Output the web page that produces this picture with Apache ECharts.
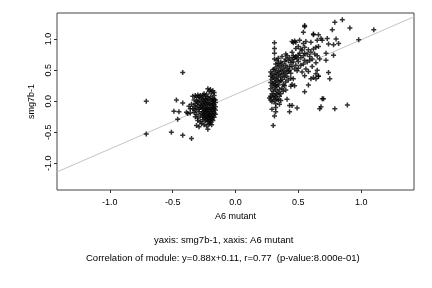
<!DOCTYPE html>
<html>
<head>
<meta charset="utf-8">
<script src="https://cdn.jsdelivr.net/npm/echarts@6/dist/echarts.min.js"></script>
<style>
  html, body { margin: 0; padding: 0; background: #fff; }
  #chart { width: 432px; height: 288px; }
</style>
</head>
<body>
<div id="chart"></div>
<script>
// tick values on both axes
var tickValues = [-1, -0.5, 0, 0.5, 1];
var xRange = [-1.42, 1.42];
var yRange = [-1.43, 1.42];

// fitted line from the caption
var fitSlope = 0.88;
var fitIntercept = 0.11;

// left group (A6 mutant < 0)
var leftPoints = [
  [-0.71, 0.00], [-0.71, -0.53], [-0.42, 0.46], [-0.47, 0.02], [-0.49, -0.16], [-0.45, -0.17],
  [-0.46, -0.29], [-0.51, -0.50], [-0.42, -0.55], [-0.35, -0.60], [-0.42, -0.03], [-0.39, -0.18],
  [-0.37, -0.08], [-0.36, -0.12], [-0.38, -0.20],
  [-0.34, 0.08], [-0.32, 0.09], [-0.31, 0.06], [-0.30, 0.10], [-0.29, 0.07], [-0.28, 0.09],
  [-0.27, 0.05], [-0.26, 0.10], [-0.25, 0.12], [-0.24, 0.08], [-0.23, 0.11], [-0.22, 0.20],
  [-0.21, 0.16], [-0.20, 0.19], [-0.19, 0.13], [-0.18, 0.17], [-0.17, 0.14], [-0.17, 0.09],
  [-0.18, 0.04], [-0.16, 0.02],
  [-0.33, 0.02], [-0.31, 0.00], [-0.30, -0.02], [-0.29, 0.02], [-0.27, 0.00], [-0.26, 0.03],
  [-0.25, -0.01], [-0.24, 0.04], [-0.23, 0.01], [-0.22, 0.06], [-0.21, 0.03], [-0.20, 0.07],
  [-0.19, 0.02], [-0.18, 0.00], [-0.17, 0.03], [-0.16, -0.02],
  [-0.35, -0.05], [-0.33, -0.08], [-0.32, -0.04], [-0.30, -0.07], [-0.28, -0.05], [-0.27, -0.09],
  [-0.26, -0.04], [-0.25, -0.07], [-0.24, -0.03], [-0.23, -0.06], [-0.22, -0.02], [-0.21, -0.05],
  [-0.20, -0.03], [-0.19, -0.07], [-0.18, -0.04], [-0.17, -0.06], [-0.16, -0.09],
  [-0.34, -0.12], [-0.32, -0.14], [-0.31, -0.11], [-0.29, -0.13], [-0.28, -0.10], [-0.26, -0.12],
  [-0.25, -0.15], [-0.24, -0.11], [-0.23, -0.13], [-0.22, -0.10], [-0.21, -0.14], [-0.20, -0.11],
  [-0.19, -0.13], [-0.18, -0.10], [-0.17, -0.12], [-0.16, -0.14],
  [-0.36, -0.19], [-0.33, -0.18], [-0.31, -0.21], [-0.29, -0.17], [-0.27, -0.20], [-0.26, -0.17],
  [-0.25, -0.21], [-0.24, -0.18], [-0.23, -0.16], [-0.22, -0.19], [-0.21, -0.21], [-0.20, -0.17],
  [-0.19, -0.20], [-0.18, -0.16], [-0.17, -0.19], [-0.16, -0.21],
  [-0.32, -0.25], [-0.30, -0.27], [-0.28, -0.24], [-0.26, -0.26], [-0.25, -0.23], [-0.24, -0.27],
  [-0.23, -0.24], [-0.22, -0.26], [-0.21, -0.23], [-0.20, -0.27], [-0.19, -0.25], [-0.18, -0.23],
  [-0.17, -0.26],
  [-0.30, -0.31], [-0.28, -0.33], [-0.26, -0.30], [-0.24, -0.32], [-0.23, -0.29], [-0.22, -0.33],
  [-0.21, -0.30], [-0.20, -0.32], [-0.19, -0.29], [-0.18, -0.31],
  [-0.31, -0.39], [-0.29, -0.41], [-0.27, -0.36], [-0.25, -0.38], [-0.23, -0.40], [-0.22, -0.45],
  [-0.21, -0.37], [-0.20, -0.35], [-0.19, -0.38]
];

// right group (A6 mutant > 0)
var rightPoints = [
  [1.10, 1.15], [0.98, 0.99], [0.91, 1.18], [0.85, 1.31], [0.79, 1.27], [0.77, 1.15],
  [0.73, 1.01], [0.80, 1.00], [0.82, 0.93], [0.78, 0.91], [0.74, 0.92], [0.78, 0.74],
  [0.72, 0.77], [0.72, 0.66], [0.74, 0.46], [0.75, 0.36], [0.69, 0.04], [0.70, 0.04],
  [0.67, -0.12], [0.68, -0.09], [0.79, -0.12], [0.89, -0.06], [0.66, 1.07], [0.68, 1.01],
  [0.69, 0.98], [0.55, 1.20], [0.55, 1.22], [0.54, 1.11], [0.62, 1.08], [0.58, 0.26],
  [0.55, 0.15], [0.64, 0.36], [0.66, 0.40], [0.49, -0.11], [0.43, -0.17], [0.45, -0.07],
  [0.43, -0.07], [0.41, 0.03], [0.30, -0.39], [0.31, -0.24], [0.32, -0.17], [0.29, -0.13],
  [0.32, -0.10],
  [0.27, 0.05], [0.28, 0.08], [0.28, 0.02], [0.29, -0.01], [0.28, 0.40], [0.28, 0.47],
  [0.29, 0.44], [0.29, 0.35], [0.28, 0.30], [0.29, 0.25], [0.28, 0.20], [0.29, 0.12],
  [0.30, 0.06], [0.30, 0.51], [0.30, 0.38], [0.30, 0.28], [0.30, 0.16],
  [0.31, 0.94], [0.31, 0.85], [0.31, 0.77], [0.31, 0.68], [0.32, 0.60], [0.31, 0.52],
  [0.32, 0.47], [0.31, 0.42], [0.32, 0.36], [0.31, 0.31], [0.32, 0.27], [0.31, 0.22],
  [0.32, 0.18], [0.31, 0.10], [0.32, 0.07], [0.31, 0.01], [0.32, -0.04], [0.33, 0.66],
  [0.33, 0.55], [0.33, 0.43], [0.33, 0.33], [0.33, 0.24], [0.33, 0.12], [0.33, 0.03],
  [0.34, 0.69], [0.34, 0.61], [0.35, 0.57], [0.34, 0.49], [0.35, 0.45], [0.34, 0.38],
  [0.35, 0.31], [0.34, 0.26], [0.35, 0.19], [0.34, 0.14], [0.35, 0.08], [0.34, 0.02],
  [0.35, -0.05], [0.36, 0.63], [0.36, 0.52], [0.36, 0.40], [0.36, 0.33], [0.36, 0.12],
  [0.36, 0.01],
  [0.37, 0.72], [0.37, 0.60], [0.38, 0.55], [0.37, 0.48], [0.38, 0.43], [0.37, 0.35],
  [0.38, 0.27], [0.37, 0.21], [0.38, 0.16], [0.39, 0.64], [0.39, 0.50], [0.39, 0.38],
  [0.40, 0.76], [0.40, 0.68], [0.40, 0.58], [0.40, 0.45], [0.40, 0.31], [0.39, 0.25],
  [0.40, 0.18],
  [0.41, 0.73], [0.42, 0.65], [0.41, 0.53], [0.42, 0.48], [0.41, 0.40], [0.42, 0.34],
  [0.43, 0.70], [0.43, 0.56], [0.43, 0.50], [0.44, 0.62], [0.44, 0.45], [0.44, 0.37],
  [0.45, 0.96], [0.45, 0.79], [0.45, 0.67], [0.45, 0.56], [0.45, 0.27], [0.44, 0.24],
  [0.46, 0.94], [0.47, 0.97], [0.46, 0.73], [0.47, 0.70], [0.46, 0.63], [0.47, 0.52],
  [0.46, 0.36], [0.47, 0.25], [0.48, 0.95], [0.48, 0.85], [0.48, 0.72], [0.49, 0.68],
  [0.48, 0.58], [0.49, 0.49], [0.50, 0.88], [0.50, 0.74], [0.50, 0.64], [0.50, 0.53],
  [0.51, 0.98], [0.52, 0.84], [0.51, 0.77], [0.52, 0.70], [0.52, 0.58], [0.53, 0.47],
  [0.53, 0.82], [0.54, 0.93], [0.54, 0.73], [0.54, 0.60], [0.55, 0.87], [0.55, 0.77],
  [0.55, 0.66], [0.55, 0.41], [0.56, 0.96], [0.56, 0.52],
  [0.57, 0.76], [0.57, 0.63], [0.58, 0.83], [0.58, 0.48], [0.59, 0.72], [0.59, 0.66],
  [0.60, 0.95], [0.60, 0.79], [0.61, 0.68], [0.61, 0.56], [0.62, 1.07], [0.62, 0.84],
  [0.62, 0.38], [0.60, 0.36],
  [0.63, 0.76], [0.64, 0.87], [0.64, 0.62], [0.65, 0.98], [0.65, 0.73], [0.65, 0.50],
  [0.66, 0.88], [0.67, 0.68], [0.66, 0.40], [0.64, 0.44]
];

var xName = 'A6 mutant';
var yName = 'smg7b-1';
var caption1 = 'yaxis: smg7b-1, xaxis: A6 mutant';
var caption2 = 'Correlation of module: y=0.88x+0.11, r=0.77  (p-value:8.000e-01)';

var font = 'Liberation Sans, Arial, sans-serif';
var plusPath = 'path://M3.5,0H6.5V3.5H10V6.5H6.5V10H3.5V6.5H0V3.5H3.5Z';

var fitLine = [
  [xRange[0], fitSlope * xRange[0] + fitIntercept],
  [xRange[1], fitSlope * xRange[1] + fitIntercept]
];

var chart = echarts.init(document.getElementById('chart'), null, { renderer: 'canvas' });
chart.setOption({
  animation: false,
  backgroundColor: '#fff',
  textStyle: { fontFamily: font },
  grid: {
    left: 57, right: 18, top: 13, bottom: 98,
    show: true, borderColor: '#444', borderWidth: 1, backgroundColor: 'transparent'
  },
  xAxis: {
    type: 'value',
    min: xRange[0], max: xRange[1],
    name: xName, nameLocation: 'middle', nameGap: 22,
    nameTextStyle: { fontFamily: font, fontSize: 9, color: '#000' },
    axisLine: { show: false, onZero: false },
    splitLine: { show: false },
    axisTick: { show: true, length: 3, customValues: tickValues, lineStyle: { color: '#333' } },
    axisLabel: {
      customValues: tickValues, margin: 8, fontSize: 9, color: '#000', fontFamily: font,
      formatter: function (v) { return v.toFixed(1); }
    }
  },
  yAxis: {
    type: 'value',
    min: yRange[0], max: yRange[1],
    name: yName, nameLocation: 'middle', nameGap: 12,
    nameTextStyle: { fontFamily: font, fontSize: 9, color: '#000' },
    axisLine: { show: false, onZero: false },
    splitLine: { show: false },
    axisTick: { show: true, length: 3, customValues: tickValues, lineStyle: { color: '#333' } },
    axisLabel: {
      customValues: tickValues, rotate: 90, margin: 4, fontSize: 9, color: '#000', fontFamily: font,
      formatter: function (v) { return v.toFixed(1); }
    }
  },
  series: [
    {
      type: 'line',
      data: fitLine,
      symbol: 'none',
      lineStyle: { color: '#c4c4c4', width: 1 },
      z: 1
    },
    {
      type: 'scatter',
      data: leftPoints.concat(rightPoints),
      symbol: plusPath,
      symbolSize: 5,
      itemStyle: { color: '#000' },
      z: 2
    }
  ],
  graphic: [
    {
      type: 'text', left: 154, top: 235,
      style: { text: caption1, font: '9.5px ' + font, fill: '#000' }
    },
    {
      type: 'text', left: 86, top: 253,
      style: { text: caption2, font: '9.5px ' + font, fill: '#000' }
    }
  ]
});
</script>
</body>
</html>
